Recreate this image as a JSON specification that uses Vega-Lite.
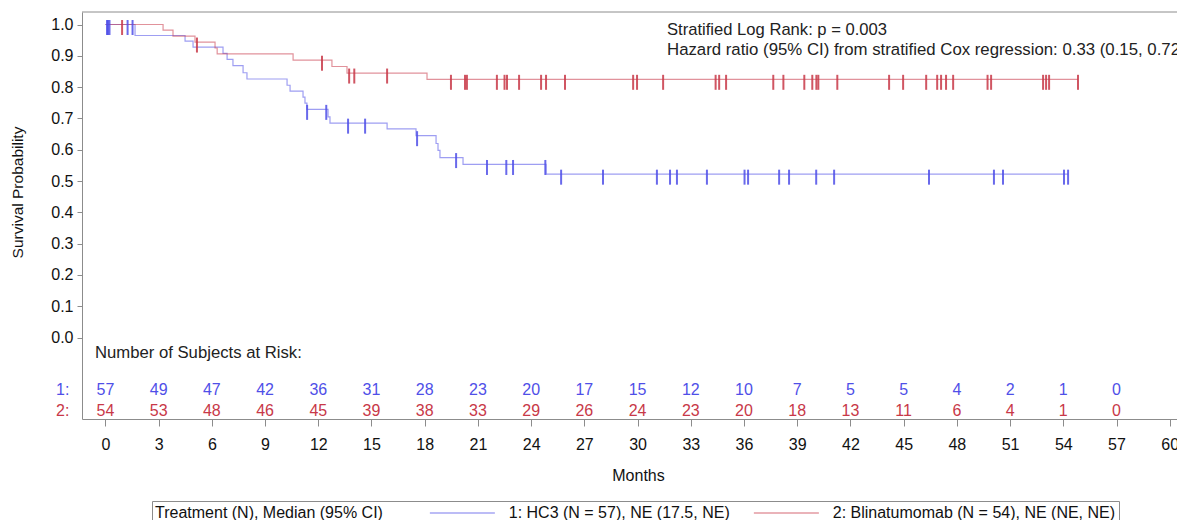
{
  "$schema": "https://vega.github.io/schema/vega-lite/v6.json",
  "width": 1095,
  "height": 407,
  "autosize": {"type": "none"},
  "padding": {"left": 82, "top": 12, "right": 0, "bottom": 101},
  "config": {"font": "Liberation Sans", "view": {"stroke": null}, "axis": {"grid": false}},
  "datasets": {
    "curve": [
      {"g": "1: HC3 (N = 57), NE (17.5, NE)", "t": 0, "s": 1},
      {"g": "1: HC3 (N = 57), NE (17.5, NE)", "t": 1.67, "s": 0.965},
      {"g": "1: HC3 (N = 57), NE (17.5, NE)", "t": 4.49, "s": 0.947},
      {"g": "1: HC3 (N = 57), NE (17.5, NE)", "t": 4.94, "s": 0.928},
      {"g": "1: HC3 (N = 57), NE (17.5, NE)", "t": 6.63, "s": 0.908},
      {"g": "1: HC3 (N = 57), NE (17.5, NE)", "t": 6.86, "s": 0.889},
      {"g": "1: HC3 (N = 57), NE (17.5, NE)", "t": 7.19, "s": 0.869},
      {"g": "1: HC3 (N = 57), NE (17.5, NE)", "t": 7.76, "s": 0.846},
      {"g": "1: HC3 (N = 57), NE (17.5, NE)", "t": 7.98, "s": 0.826},
      {"g": "1: HC3 (N = 57), NE (17.5, NE)", "t": 10.24, "s": 0.806},
      {"g": "1: HC3 (N = 57), NE (17.5, NE)", "t": 10.41, "s": 0.787},
      {"g": "1: HC3 (N = 57), NE (17.5, NE)", "t": 11.14, "s": 0.768},
      {"g": "1: HC3 (N = 57), NE (17.5, NE)", "t": 11.25, "s": 0.749},
      {"g": "1: HC3 (N = 57), NE (17.5, NE)", "t": 11.36, "s": 0.729},
      {"g": "1: HC3 (N = 57), NE (17.5, NE)", "t": 12.55, "s": 0.705},
      {"g": "1: HC3 (N = 57), NE (17.5, NE)", "t": 12.66, "s": 0.685},
      {"g": "1: HC3 (N = 57), NE (17.5, NE)", "t": 15.88, "s": 0.667},
      {"g": "1: HC3 (N = 57), NE (17.5, NE)", "t": 17.51, "s": 0.645},
      {"g": "1: HC3 (N = 57), NE (17.5, NE)", "t": 18.64, "s": 0.62},
      {"g": "1: HC3 (N = 57), NE (17.5, NE)", "t": 18.75, "s": 0.598},
      {"g": "1: HC3 (N = 57), NE (17.5, NE)", "t": 18.86, "s": 0.575},
      {"g": "1: HC3 (N = 57), NE (17.5, NE)", "t": 20.16, "s": 0.553},
      {"g": "1: HC3 (N = 57), NE (17.5, NE)", "t": 24.84, "s": 0.522},
      {"g": "1: HC3 (N = 57), NE (17.5, NE)", "t": 54.27, "s": 0.522},
      {"g": "2: Blinatumomab (N = 54), NE (NE, NE)", "t": 0, "s": 1},
      {"g": "2: Blinatumomab (N = 54), NE (NE, NE)", "t": 3.25, "s": 0.982},
      {"g": "2: Blinatumomab (N = 54), NE (NE, NE)", "t": 3.81, "s": 0.963},
      {"g": "2: Blinatumomab (N = 54), NE (NE, NE)", "t": 5.05, "s": 0.944},
      {"g": "2: Blinatumomab (N = 54), NE (NE, NE)", "t": 6.18, "s": 0.925},
      {"g": "2: Blinatumomab (N = 54), NE (NE, NE)", "t": 6.3, "s": 0.906},
      {"g": "2: Blinatumomab (N = 54), NE (NE, NE)", "t": 10.58, "s": 0.886},
      {"g": "2: Blinatumomab (N = 54), NE (NE, NE)", "t": 12.77, "s": 0.866},
      {"g": "2: Blinatumomab (N = 54), NE (NE, NE)", "t": 13.62, "s": 0.845},
      {"g": "2: Blinatumomab (N = 54), NE (NE, NE)", "t": 18.13, "s": 0.825},
      {"g": "2: Blinatumomab (N = 54), NE (NE, NE)", "t": 54.83, "s": 0.825}
    ],
    "censor": [
      {"g": "1: HC3 (N = 57), NE (17.5, NE)", "t": 0.09, "s": 1},
      {"g": "1: HC3 (N = 57), NE (17.5, NE)", "t": 0.15, "s": 1},
      {"g": "1: HC3 (N = 57), NE (17.5, NE)", "t": 0.23, "s": 1},
      {"g": "1: HC3 (N = 57), NE (17.5, NE)", "t": 1.25, "s": 1},
      {"g": "1: HC3 (N = 57), NE (17.5, NE)", "t": 1.53, "s": 1},
      {"g": "1: HC3 (N = 57), NE (17.5, NE)", "t": 11.37, "s": 0.729},
      {"g": "1: HC3 (N = 57), NE (17.5, NE)", "t": 12.45, "s": 0.729},
      {"g": "1: HC3 (N = 57), NE (17.5, NE)", "t": 13.68, "s": 0.685},
      {"g": "1: HC3 (N = 57), NE (17.5, NE)", "t": 14.64, "s": 0.685},
      {"g": "1: HC3 (N = 57), NE (17.5, NE)", "t": 17.57, "s": 0.645},
      {"g": "1: HC3 (N = 57), NE (17.5, NE)", "t": 19.77, "s": 0.575},
      {"g": "1: HC3 (N = 57), NE (17.5, NE)", "t": 21.51, "s": 0.553},
      {"g": "1: HC3 (N = 57), NE (17.5, NE)", "t": 22.6, "s": 0.553},
      {"g": "1: HC3 (N = 57), NE (17.5, NE)", "t": 22.98, "s": 0.553},
      {"g": "1: HC3 (N = 57), NE (17.5, NE)", "t": 24.8, "s": 0.553},
      {"g": "1: HC3 (N = 57), NE (17.5, NE)", "t": 25.69, "s": 0.522},
      {"g": "1: HC3 (N = 57), NE (17.5, NE)", "t": 28.05, "s": 0.522},
      {"g": "1: HC3 (N = 57), NE (17.5, NE)", "t": 31.09, "s": 0.522},
      {"g": "1: HC3 (N = 57), NE (17.5, NE)", "t": 31.83, "s": 0.522},
      {"g": "1: HC3 (N = 57), NE (17.5, NE)", "t": 32.22, "s": 0.522},
      {"g": "1: HC3 (N = 57), NE (17.5, NE)", "t": 33.91, "s": 0.522},
      {"g": "1: HC3 (N = 57), NE (17.5, NE)", "t": 36.03, "s": 0.522},
      {"g": "1: HC3 (N = 57), NE (17.5, NE)", "t": 36.23, "s": 0.522},
      {"g": "1: HC3 (N = 57), NE (17.5, NE)", "t": 37.98, "s": 0.522},
      {"g": "1: HC3 (N = 57), NE (17.5, NE)", "t": 38.54, "s": 0.522},
      {"g": "1: HC3 (N = 57), NE (17.5, NE)", "t": 40.07, "s": 0.522},
      {"g": "1: HC3 (N = 57), NE (17.5, NE)", "t": 41.08, "s": 0.522},
      {"g": "1: HC3 (N = 57), NE (17.5, NE)", "t": 46.43, "s": 0.522},
      {"g": "1: HC3 (N = 57), NE (17.5, NE)", "t": 50.09, "s": 0.522},
      {"g": "1: HC3 (N = 57), NE (17.5, NE)", "t": 50.6, "s": 0.522},
      {"g": "1: HC3 (N = 57), NE (17.5, NE)", "t": 54.04, "s": 0.522},
      {"g": "1: HC3 (N = 57), NE (17.5, NE)", "t": 54.27, "s": 0.522},
      {"g": "2: Blinatumomab (N = 54), NE (NE, NE)", "t": 0.94, "s": 1},
      {"g": "2: Blinatumomab (N = 54), NE (NE, NE)", "t": 5.16, "s": 0.944},
      {"g": "2: Blinatumomab (N = 54), NE (NE, NE)", "t": 12.21, "s": 0.886},
      {"g": "2: Blinatumomab (N = 54), NE (NE, NE)", "t": 13.74, "s": 0.845},
      {"g": "2: Blinatumomab (N = 54), NE (NE, NE)", "t": 14.03, "s": 0.845},
      {"g": "2: Blinatumomab (N = 54), NE (NE, NE)", "t": 15.88, "s": 0.845},
      {"g": "2: Blinatumomab (N = 54), NE (NE, NE)", "t": 19.48, "s": 0.825},
      {"g": "2: Blinatumomab (N = 54), NE (NE, NE)", "t": 20.27, "s": 0.825},
      {"g": "2: Blinatumomab (N = 54), NE (NE, NE)", "t": 20.38, "s": 0.825},
      {"g": "2: Blinatumomab (N = 54), NE (NE, NE)", "t": 22.07, "s": 0.825},
      {"g": "2: Blinatumomab (N = 54), NE (NE, NE)", "t": 22.5, "s": 0.825},
      {"g": "2: Blinatumomab (N = 54), NE (NE, NE)", "t": 22.64, "s": 0.825},
      {"g": "2: Blinatumomab (N = 54), NE (NE, NE)", "t": 23.32, "s": 0.825},
      {"g": "2: Blinatumomab (N = 54), NE (NE, NE)", "t": 24.56, "s": 0.825},
      {"g": "2: Blinatumomab (N = 54), NE (NE, NE)", "t": 24.84, "s": 0.825},
      {"g": "2: Blinatumomab (N = 54), NE (NE, NE)", "t": 25.91, "s": 0.825},
      {"g": "2: Blinatumomab (N = 54), NE (NE, NE)", "t": 29.75, "s": 0.825},
      {"g": "2: Blinatumomab (N = 54), NE (NE, NE)", "t": 29.97, "s": 0.825},
      {"g": "2: Blinatumomab (N = 54), NE (NE, NE)", "t": 31.44, "s": 0.825},
      {"g": "2: Blinatumomab (N = 54), NE (NE, NE)", "t": 34.4, "s": 0.825},
      {"g": "2: Blinatumomab (N = 54), NE (NE, NE)", "t": 34.6, "s": 0.825},
      {"g": "2: Blinatumomab (N = 54), NE (NE, NE)", "t": 34.99, "s": 0.825},
      {"g": "2: Blinatumomab (N = 54), NE (NE, NE)", "t": 37.65, "s": 0.825},
      {"g": "2: Blinatumomab (N = 54), NE (NE, NE)", "t": 38.22, "s": 0.825},
      {"g": "2: Blinatumomab (N = 54), NE (NE, NE)", "t": 39.4, "s": 0.825},
      {"g": "2: Blinatumomab (N = 54), NE (NE, NE)", "t": 39.85, "s": 0.825},
      {"g": "2: Blinatumomab (N = 54), NE (NE, NE)", "t": 40.08, "s": 0.825},
      {"g": "2: Blinatumomab (N = 54), NE (NE, NE)", "t": 40.19, "s": 0.825},
      {"g": "2: Blinatumomab (N = 54), NE (NE, NE)", "t": 41.26, "s": 0.825},
      {"g": "2: Blinatumomab (N = 54), NE (NE, NE)", "t": 44.18, "s": 0.825},
      {"g": "2: Blinatumomab (N = 54), NE (NE, NE)", "t": 44.97, "s": 0.825},
      {"g": "2: Blinatumomab (N = 54), NE (NE, NE)", "t": 46.27, "s": 0.825},
      {"g": "2: Blinatumomab (N = 54), NE (NE, NE)", "t": 46.89, "s": 0.825},
      {"g": "2: Blinatumomab (N = 54), NE (NE, NE)", "t": 47.11, "s": 0.825},
      {"g": "2: Blinatumomab (N = 54), NE (NE, NE)", "t": 47.39, "s": 0.825},
      {"g": "2: Blinatumomab (N = 54), NE (NE, NE)", "t": 47.79, "s": 0.825},
      {"g": "2: Blinatumomab (N = 54), NE (NE, NE)", "t": 49.73, "s": 0.825},
      {"g": "2: Blinatumomab (N = 54), NE (NE, NE)", "t": 49.93, "s": 0.825},
      {"g": "2: Blinatumomab (N = 54), NE (NE, NE)", "t": 52.86, "s": 0.825},
      {"g": "2: Blinatumomab (N = 54), NE (NE, NE)", "t": 53.03, "s": 0.825},
      {"g": "2: Blinatumomab (N = 54), NE (NE, NE)", "t": 53.2, "s": 0.825},
      {"g": "2: Blinatumomab (N = 54), NE (NE, NE)", "t": 54.83, "s": 0.825}
    ],
    "risk": [
      {"g": "1", "t": 0, "n": 57}, {"g": "1", "t": 3, "n": 49}, {"g": "1", "t": 6, "n": 47}, {"g": "1", "t": 9, "n": 42},
      {"g": "1", "t": 12, "n": 36}, {"g": "1", "t": 15, "n": 31}, {"g": "1", "t": 18, "n": 28}, {"g": "1", "t": 21, "n": 23},
      {"g": "1", "t": 24, "n": 20}, {"g": "1", "t": 27, "n": 17}, {"g": "1", "t": 30, "n": 15}, {"g": "1", "t": 33, "n": 12},
      {"g": "1", "t": 36, "n": 10}, {"g": "1", "t": 39, "n": 7}, {"g": "1", "t": 42, "n": 5}, {"g": "1", "t": 45, "n": 5},
      {"g": "1", "t": 48, "n": 4}, {"g": "1", "t": 51, "n": 2}, {"g": "1", "t": 54, "n": 1}, {"g": "1", "t": 57, "n": 0},
      {"g": "2", "t": 0, "n": 54}, {"g": "2", "t": 3, "n": 53}, {"g": "2", "t": 6, "n": 48}, {"g": "2", "t": 9, "n": 46},
      {"g": "2", "t": 12, "n": 45}, {"g": "2", "t": 15, "n": 39}, {"g": "2", "t": 18, "n": 38}, {"g": "2", "t": 21, "n": 33},
      {"g": "2", "t": 24, "n": 29}, {"g": "2", "t": 27, "n": 26}, {"g": "2", "t": 30, "n": 24}, {"g": "2", "t": 33, "n": 23},
      {"g": "2", "t": 36, "n": 20}, {"g": "2", "t": 39, "n": 18}, {"g": "2", "t": 42, "n": 13}, {"g": "2", "t": 45, "n": 11},
      {"g": "2", "t": 48, "n": 6}, {"g": "2", "t": 51, "n": 4}, {"g": "2", "t": 54, "n": 1}, {"g": "2", "t": 57, "n": 0}
    ]
  },
  "layer": [
    {
      "data": {"values": [{}]},
      "mark": {"type": "rule", "color": "#8c8c8c", "strokeWidth": 1},
      "encoding": {"y": {"datum": 1.04, "type": "quantitative"}}
    },
    {
      "data": {"name": "curve"},
      "mark": {"type": "line", "interpolate": "step-after", "strokeWidth": 1.2, "strokeOpacity": 0.55},
      "encoding": {
        "x": {
          "field": "t", "type": "quantitative",
          "scale": {"domain": [-1.32, 60.41], "nice": false, "zero": false},
          "axis": {
            "values": [0, 3, 6, 9, 12, 15, 18, 21, 24, 27, 30, 33, 36, 39, 42, 45, 48, 51, 54, 57, 60],
            "title": "Months", "titleFontSize": 16, "titleFontWeight": "normal", "titleColor": "#111",
            "titleX": 556, "titleY": 56, "titleBaseline": "middle", "titleAlign": "center",
            "labelFontSize": 16, "labelColor": "#111", "labelBaseline": "middle", "labelPadding": 18,
            "labelFlush": false, "labelOverlap": false,
            "tickSize": 7, "tickColor": "#8c8c8c", "domainColor": "#8c8c8c"
          }
        },
        "y": {
          "field": "s", "type": "quantitative",
          "scale": {"domain": [-0.26, 1.04], "nice": false, "zero": false},
          "axis": {
            "values": [0, 0.1, 0.2, 0.3, 0.4, 0.5, 0.6, 0.7, 0.8, 0.9, 1.0],
            "format": ".1f",
            "title": "Survival Probability", "titleFontSize": 15.5, "titleFontWeight": "normal", "titleColor": "#111",
            "titleX": -65, "titleY": 180, "titleBaseline": "middle", "titleAlign": "center", "titleAngle": 270,
            "labelFontSize": 16, "labelColor": "#111", "labelPadding": 4, "labelOverlap": false,
            "tickSize": 5, "tickColor": "#8c8c8c", "domainColor": "#8c8c8c"
          }
        },
        "color": {
          "field": "g", "type": "nominal",
          "scale": {"domain": ["1: HC3 (N = 57), NE (17.5, NE)", "2: Blinatumomab (N = 54), NE (NE, NE)"], "range": ["#4f4fe8", "#c83848"]},
          "legend": {
            "orient": "none", "legendX": 70, "legendY": 489, "direction": "horizontal",
            "title": "Treatment (N), Median (95% CI)", "titleOrient": "left", "titleFontSize": 16,
            "titleFontWeight": "normal", "titleColor": "#111", "titlePadding": 46, "titleBaseline": "middle",
            "titleLimit": 600,
            "labelFontSize": 16, "labelColor": "#111", "labelLimit": 600,
            "symbolType": "M-1,0H7", "symbolSize": 264, "symbolStrokeWidth": 1.5, "symbolOpacity": 0.5,
            "labelOffset": 61.75, "columnPadding": 20, "strokeColor": "#8c8c8c", "padding": 3
          }
        }
      }
    },
    {
      "data": {"name": "censor"},
      "mark": {"type": "tick", "orient": "vertical", "size": 15, "thickness": 2, "yOffset": 3, "opacity": 0.85},
      "encoding": {
        "x": {"field": "t", "type": "quantitative", "scale": {"domain": [-1.32, 60.41], "nice": false, "zero": false}},
        "y": {"field": "s", "type": "quantitative", "scale": {"domain": [-0.26, 1.04], "nice": false, "zero": false}},
        "fill": {
          "field": "g", "type": "nominal",
          "scale": {"domain": ["1: HC3 (N = 57), NE (17.5, NE)", "2: Blinatumomab (N = 54), NE (NE, NE)"], "range": ["#4f4fe8", "#c83848"]},
          "legend": null
        }
      }
    },
    {
      "data": {"name": "risk"},
      "transform": [{"filter": {"field": "g", "equal": "1"}}],
      "mark": {"type": "text", "fontSize": 16, "baseline": "middle", "align": "center", "color": "#4f4fe8"},
      "encoding": {
        "x": {"field": "t", "type": "quantitative"},
        "y": {"datum": -0.1674, "type": "quantitative"},
        "text": {"field": "n", "type": "quantitative"}
      }
    },
    {
      "data": {"name": "risk"},
      "transform": [{"filter": {"field": "g", "equal": "2"}}],
      "mark": {"type": "text", "fontSize": 16, "baseline": "middle", "align": "center", "color": "#c83848"},
      "encoding": {
        "x": {"field": "t", "type": "quantitative"},
        "y": {"datum": -0.2344, "type": "quantitative"},
        "text": {"field": "n", "type": "quantitative"}
      }
    },
    {
      "data": {"values": [{}]},
      "mark": {"type": "text", "fontSize": 16, "baseline": "middle", "align": "right", "color": "#4f4fe8"},
      "encoding": {"x": {"datum": -2.03, "type": "quantitative"}, "y": {"datum": -0.1674, "type": "quantitative"}, "text": {"value": "1:"}}
    },
    {
      "data": {"values": [{}]},
      "mark": {"type": "text", "fontSize": 16, "baseline": "middle", "align": "right", "color": "#c83848"},
      "encoding": {"x": {"datum": -2.03, "type": "quantitative"}, "y": {"datum": -0.2344, "type": "quantitative"}, "text": {"value": "2:"}}
    },
    {
      "data": {"values": [{}]},
      "mark": {"type": "text", "fontSize": 16.7, "baseline": "middle", "align": "left", "color": "#222"},
      "encoding": {"x": {"datum": -0.59, "type": "quantitative"}, "y": {"datum": -0.0476, "type": "quantitative"}, "text": {"value": "Number of Subjects at Risk:"}}
    },
    {
      "data": {"values": [{}]},
      "mark": {"type": "text", "fontSize": 16.6, "baseline": "middle", "align": "left", "color": "#222"},
      "encoding": {"x": {"datum": 31.66, "type": "quantitative"}, "y": {"datum": 0.982, "type": "quantitative"}, "text": {"value": "Stratified Log Rank: p = 0.003"}}
    },
    {
      "data": {"values": [{}]},
      "mark": {"type": "text", "fontSize": 16.8, "baseline": "middle", "align": "left", "color": "#222"},
      "encoding": {"x": {"datum": 31.66, "type": "quantitative"}, "y": {"datum": 0.918, "type": "quantitative"}, "text": {"value": "Hazard ratio (95% CI) from stratified Cox regression: 0.33 (0.15, 0.72)"}}
    }
  ]
}
